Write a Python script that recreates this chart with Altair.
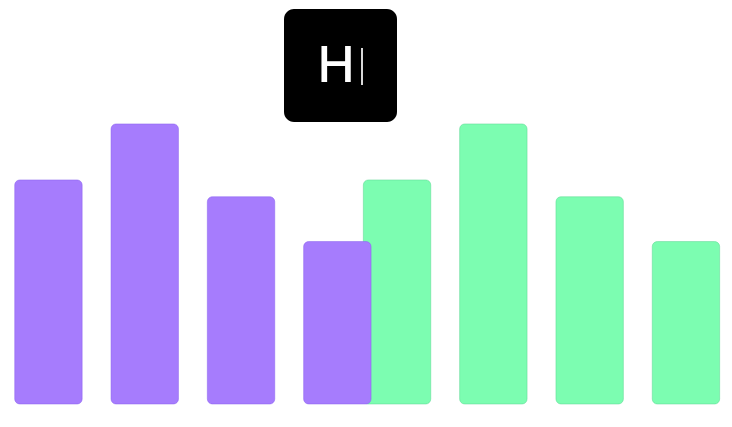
import altair as alt
import pandas as pd

# data
slots = [0, 1, 2, 3]
purple_values = [80, 100, 74, 58]
green_values = [80, 100, 74, 58]
series_offset = {"A": 0.0, "B": 3.62}
logo_letter = "H"

rows = []
for s, vals in (("A", purple_values), ("B", green_values)):
    for i, v in zip(slots, vals):
        rows.append({"series": s, "slot": i + series_offset[s], "value": v})
df = pd.DataFrame(rows)

HALF = 0.35
xscale = alt.Scale(domain=[-0.42, 7.015], nice=False, zero=False)
yscale = alt.Scale(domain=[-5.36, 141.4], nice=False, zero=False)

def bars(series, color, stroke):
    return (
        alt.Chart(df)
        .transform_filter(alt.datum.series == series)
        .transform_calculate(x0=f"datum.slot - {HALF}", x1=f"datum.slot + {HALF}")
        .mark_bar(color=color, cornerRadius=5, stroke=stroke, strokeWidth=1, strokeOpacity=0.5)
        .encode(
            x=alt.X("x0:Q", scale=xscale, axis=None),
            x2="x1:Q",
            y=alt.Y("value:Q", scale=yscale, axis=None),
            y2=alt.datum(0),
        )
    )

green = bars("B", "#7CFDB1", "#5ed894")
purple = bars("A", "#A67CFD", "#8a5ff0")

logo_df = pd.DataFrame({"t": [logo_letter]})
logo_box = alt.Chart(logo_df).mark_rect(color="#000000", cornerRadius=10).encode(
    x=alt.value(276), x2=alt.value(389), y=alt.value(1), y2=alt.value(114)
)
logo_text = alt.Chart(logo_df).mark_text(
    color="#ffffff", font="Inter", fontSize=50, fontWeight=500, baseline="middle", align="center"
).encode(x=alt.value(328), y=alt.value(59), text="t:N")
cursor = alt.Chart(logo_df).mark_rule(color="#d8d8d8", strokeWidth=2).encode(
    x=alt.value(354), y=alt.value(40), y2=alt.value(77)
)

chart = (
    alt.layer(green, purple, logo_box, logo_text, cursor)
    .properties(width=716, height=411, padding=0, background="#ffffff")
    .configure_view(stroke=None)
)
chart.save("out.html", embed_options={"renderer": "svg", "actions": False})
